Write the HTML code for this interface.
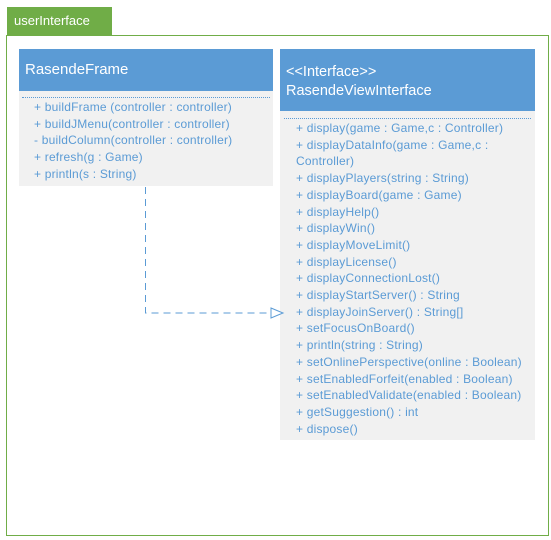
<!DOCTYPE html>
<html><head><style>
body{margin:0;width:551px;height:540px;background:#fff;position:relative;font-family:"Liberation Sans",sans-serif;overflow:hidden}
.a{position:absolute}
.m{position:absolute;color:#5b9bd5;font-size:12px;letter-spacing:0.2px;white-space:nowrap;line-height:16.7px}
</style></head><body>
<div class="a" style="left:7px;top:7px;width:105px;height:29px;background:#70ad47"></div>
<div class="a" style="left:14px;top:13px;color:#fff;font-size:13px">userInterface</div>
<div class="a" style="left:6px;top:35px;width:541px;height:499px;border:1.5px solid #70ad47;border-top-width:1px"></div>

<div class="a" style="left:19px;top:49px;width:254px;height:42px;background:#5b9bd5"></div>
<div class="a" style="left:25px;top:61px;color:#fff;font-size:15px">RasendeFrame</div>
<div class="a" style="left:19px;top:91px;width:254px;height:95px;background:#f1f1f1"></div>
<div class="a" style="left:22px;top:97px;width:248px;border-top:1px dotted #5b9bd5"></div>
<div class="m" style="left:34px;top:99px">+ buildFrame (controller : controller)<br>+ buildJMenu(controller : controller)<br>- buildColumn(controller : controller)<br>+ refresh(g : Game)<br>+ println(s : String)</div>

<div class="a" style="left:280px;top:49px;width:255px;height:62px;background:#5b9bd5"></div>
<div class="a" style="left:286px;top:63px;color:#fff;font-size:14.5px;line-height:19px">&lt;&lt;Interface&gt;&gt;<br>RasendeViewInterface</div>
<div class="a" style="left:280px;top:111px;width:255px;height:329px;background:#f1f1f1"></div>
<div class="a" style="left:284px;top:118px;width:247px;border-top:1px dotted #5b9bd5"></div>
<div class="m" style="left:296px;top:120px">+ display(game : Game,c : Controller)<br>+ displayDataInfo(game : Game,c :<br>Controller)<br>+ displayPlayers(string : String)<br>+ displayBoard(game : Game)<br>+ displayHelp()<br>+ displayWin()<br>+ displayMoveLimit()<br>+ displayLicense()<br>+ displayConnectionLost()<br>+ displayStartServer() : String<br>+ displayJoinServer() : String[]<br>+ setFocusOnBoard()<br>+ println(string : String)<br>+ setOnlinePerspective(online : Boolean)<br>+ setEnabledForfeit(enabled : Boolean)<br>+ setEnabledValidate(enabled : Boolean)<br>+ getSuggestion() : int<br>+ dispose()</div>

<svg class="a" style="left:0;top:0" width="551" height="540">
<path d="M145.5 187 V313 H270" fill="none" stroke="#5b9bd5" stroke-width="1" stroke-dasharray="7,5"/>
<path d="M271 308 L283 313 L271 318 Z" fill="#fff" stroke="#5b9bd5" stroke-width="1"/>
</svg>
</body></html>
